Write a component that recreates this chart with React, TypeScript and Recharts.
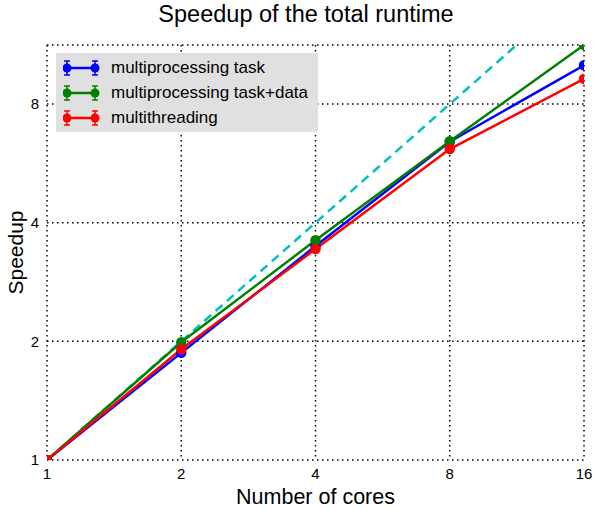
import React from "react"
import { LineChart, Line, XAxis, YAxis, CartesianGrid } from "recharts"

const cores = [1, 2, 4, 8, 16]
const taskSpeedup = [1, 1.87, 3.49, 6.42, 10.04]
const taskDataSpeedup = [1, 1.99, 3.61, 6.44, 11.3]
const threadSpeedup = [1, 1.91, 3.43, 6.15, 9.27]
const idealSpeedup = [1, 2, 4, 8, 16]
const yTicks = [1, 2, 4, 8]

const chartData = cores.map((c, i) => ({
  cores: c,
  task: taskSpeedup[i],
  taskData: taskDataSpeedup[i],
  thread: threadSpeedup[i],
  ideal: idealSpeedup[i],
}))

const legendItems = [
  { label: "multiprocessing task", color: "#0000ff" },
  { label: "multiprocessing task+data", color: "#008000" },
  { label: "multithreading", color: "#ff0000" },
]

const font = "'Liberation Sans', Arial, Helvetica, sans-serif"

function LegendBox() {
  return (
    <div
      style={{
        position: "absolute",
        left: 56,
        top: 53,
        background: "#e0e0e0",
        width: 262,
        height: 79,
        paddingTop: 2,
        boxSizing: "border-box",
      }}
    >
      {legendItems.map((item) => (
        <div key={item.label} style={{ display: "flex", alignItems: "center", height: 25 }}>
          <svg width={38} height={22} style={{ marginLeft: 7 }}>
            <line x1={4} y1={11} x2={32} y2={11} stroke={item.color} strokeWidth={2.5} />
            <line x1={4} y1={4} x2={4} y2={18} stroke={item.color} strokeWidth={1.5} />
            <line x1={32} y1={4} x2={32} y2={18} stroke={item.color} strokeWidth={1.5} />
            <line x1={1} y1={4} x2={7} y2={4} stroke={item.color} strokeWidth={1.5} />
            <line x1={1} y1={18} x2={7} y2={18} stroke={item.color} strokeWidth={1.5} />
            <line x1={29} y1={4} x2={35} y2={4} stroke={item.color} strokeWidth={1.5} />
            <line x1={29} y1={18} x2={35} y2={18} stroke={item.color} strokeWidth={1.5} />
            <circle cx={4} cy={11} r={4.5} fill={item.color} />
            <circle cx={32} cy={11} r={4.5} fill={item.color} />
          </svg>
          <span style={{ fontSize: 17, color: "#000", marginLeft: 10 }}>{item.label}</span>
        </div>
      ))}
    </div>
  )
}

export default function App() {
  return (
    <div style={{ position: "absolute", left: 0, top: 0, width: 595, height: 508, fontFamily: font, background: "#fff" }}>
      <div style={{ position: "absolute", top: 0, left: 0, width: 612, textAlign: "center", fontSize: 23.5, lineHeight: "28px" }}>
        Speedup of the total runtime
      </div>
      <LineChart width={595} height={508} data={chartData} margin={{ top: 45, right: 11, bottom: 0, left: 0 }}>
        <CartesianGrid stroke="#000" strokeDasharray="1.5 3.5" strokeWidth={1.5} />
        <XAxis
          dataKey="cores"
          type="number"
          scale="log"
          domain={[1, 16]}
          ticks={cores}
          allowDataOverflow
          axisLine={false}
          tickLine={false}
          height={48}
          tick={{ fill: "#000", fontSize: 15, fontFamily: font }}
          label={{ value: "Number of cores", position: "insideBottom", offset: 4, fill: "#000", fontSize: 21.5, fontFamily: font }}
        />
        <YAxis
          type="number"
          scale="log"
          domain={[1, 11.3]}
          ticks={yTicks}
          allowDataOverflow
          axisLine={false}
          tickLine={false}
          width={47}
          tick={{ fill: "#000", fontSize: 15, fontFamily: font }}
          label={{ value: "Speedup", angle: -90, position: "insideLeft", offset: 16, fill: "#000", fontSize: 21, fontFamily: font, style: { textAnchor: "middle" } }}
        />
        <Line dataKey="ideal" stroke="#00bfbf" strokeWidth={2.5} strokeDasharray="9 6" dot={false} isAnimationActive={false} />
        <Line dataKey="task" stroke="#0000ff" strokeWidth={2.5} dot={{ r: 4, fill: "#0000ff", stroke: "#0000ff" }} isAnimationActive={false} />
        <Line dataKey="taskData" stroke="#008000" strokeWidth={2.5} dot={{ r: 4, fill: "#008000", stroke: "#008000" }} isAnimationActive={false} />
        <Line dataKey="thread" stroke="#ff0000" strokeWidth={2.5} dot={{ r: 4, fill: "#ff0000", stroke: "#ff0000" }} isAnimationActive={false} />
      </LineChart>
      <LegendBox />
    </div>
  )
}
